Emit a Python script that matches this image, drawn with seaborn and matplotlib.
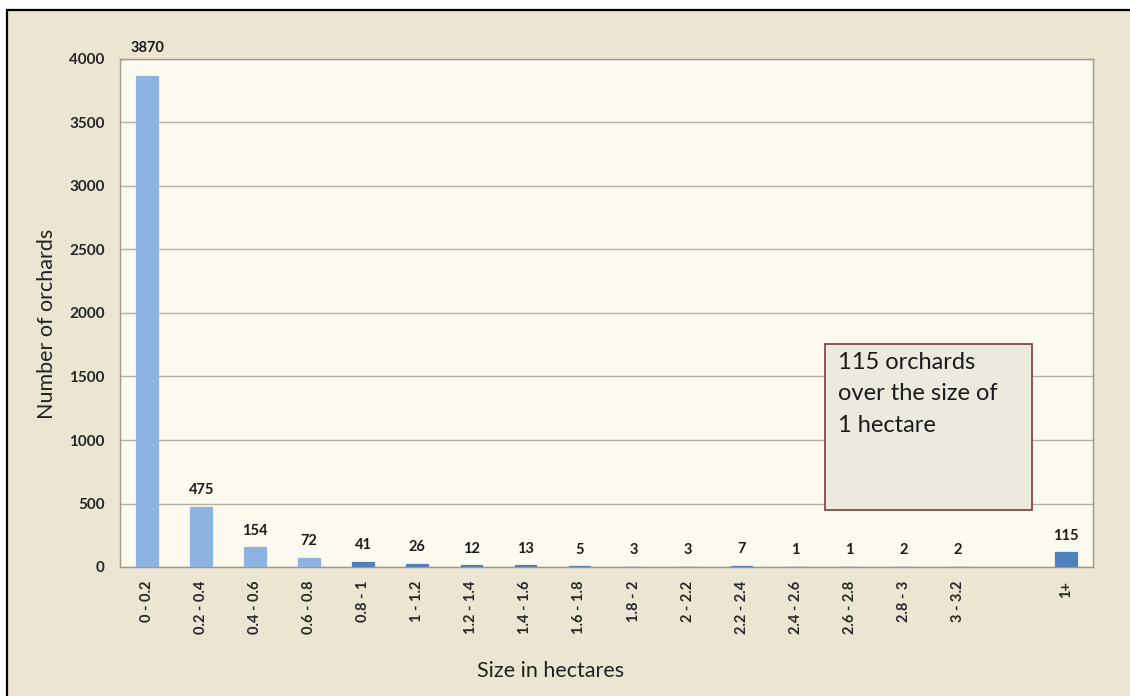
import matplotlib
matplotlib.use("Agg")
import matplotlib.pyplot as plt
import matplotlib.patches as mpatches
import seaborn as sns
import pandas as pd

categories = ["0 - 0.2", "0.2 - 0.4", "0.4 - 0.6", "0.6 - 0.8", "0.8 - 1", "1 - 1.2",
              "1.2 - 1.4", "1.4 - 1.6", "1.6 - 1.8", "1.8 - 2", "2 - 2.2", "2.2 - 2.4",
              "2.4 - 2.6", "2.6 - 2.8", "2.8 - 3", "3 - 3.2", "1+"]
counts = [3870, 475, 154, 72, 41, 26, 12, 13, 5, 3, 3, 7, 1, 1, 2, 2, 115]
slot_order = categories[:16] + [" "] + categories[16:]
light = "#8db3e2"
dark = "#4f81bd"
bar_colors = {c: (light if i < 4 else dark) for i, c in enumerate(categories)}
bar_colors[" "] = dark

df = pd.DataFrame({"size": categories, "count": counts})

sns.set_theme(style="white")
plt.rcParams["font.family"] = ["Lato", "DejaVu Sans"]

fig = plt.figure(figsize=(11.3, 6.96), dpi=100, facecolor="white")
border = mpatches.Rectangle((7 / 1130, -0.02), 1.05, 1 - 9.5 / 696 + 0.02,
                            transform=fig.transFigure, facecolor="#ebe5d2",
                            edgecolor="black", linewidth=1.6, zorder=-10)
fig.patches.append(border)

ax = fig.add_axes([120 / 1130, (696 - 567) / 696, (1093 - 120) / 1130, (567 - 59) / 696])
ax.set_facecolor("#fcf9ee")

sns.barplot(data=df, x="size", y="count", hue="size", order=slot_order,
            hue_order=slot_order, palette=bar_colors, width=0.4, legend=False,
            saturation=1, ax=ax, zorder=3)
for p in ax.patches:
    p.set_edgecolor(p.get_facecolor())
    p.set_linewidth(0.9)

for cont in ax.containers:
    if len(cont) == 0:
        continue
    h = cont[0].get_height()
    pad = 15 if h > 3000 else 7
    ax.bar_label(cont, fmt="%g", padding=pad, fontsize=10.5, fontweight="bold",
                 color="#1a1a1a")

ax.set_ylim(0, 4000)
ax.set_yticks(range(0, 4001, 500))
ax.set_xlim(-0.5, len(slot_order) - 0.5)
ax.yaxis.grid(True, color="#b5ad9e", linewidth=1, zorder=0)
ax.set_axisbelow(True)
for s in ax.spines.values():
    s.set_color("#a39787")
    s.set_linewidth(1)
ax.tick_params(axis="y", length=5, color="#a39787", labelsize=11, pad=6)
ax.tick_params(axis="x", length=0, labelsize=10.5, pad=10)
for lab in ax.get_yticklabels():
    lab.set_fontweight("bold")
for lab in ax.get_xticklabels():
    lab.set_fontweight("bold")
    lab.set_rotation(90)
ax.set_xlabel("")
ax.set_ylabel("")

fig.text(47 / 1130, 1 - 324 / 696, "Number of orchards", rotation=90,
         ha="center", va="center", fontsize=15.5, color="#222222")
fig.text(551 / 1130, 1 - 671 / 696, "Size in hectares", ha="center", va="center",
         fontsize=15.5, color="#222222")

box = mpatches.Rectangle((0.7246, 0.112), 0.2124, 0.327, transform=ax.transAxes,
                         facecolor="#ece9df", edgecolor="#7a3b3b", linewidth=1.2,
                         zorder=5)
ax.add_patch(box)
ax.text(0.738, 0.424, "115 orchards\nover the size of\n1 hectare", transform=ax.transAxes,
        ha="left", va="top", fontsize=17, linespacing=1.62, color="#1a1a1a", zorder=6)

fig.savefig("out.png", dpi=100, facecolor=fig.get_facecolor())
